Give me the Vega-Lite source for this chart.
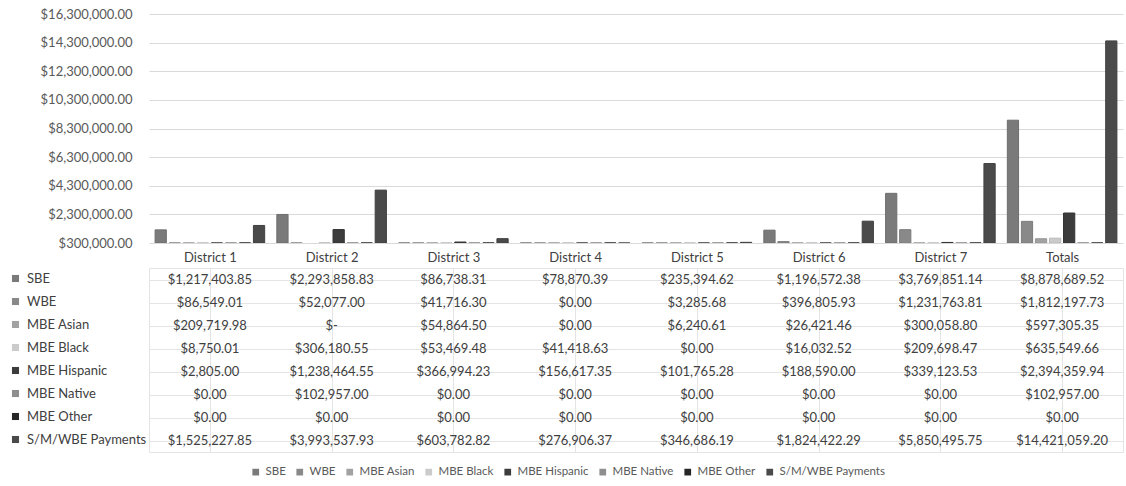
{
  "$schema": "https://vega.github.io/schema/vega-lite/v6.json",
  "padding": {"top": 8, "left": 8, "right": 4, "bottom": 0},
  "background": "white",
  "config": {
    "font": "Lato",
    "view": {"stroke": null},
    "axis": {"labelFont": "Lato", "labelFontSize": 13, "labelColor": "#595959", "titleFont": "Lato"},
    "legend": {"labelFont": "Lato", "labelFontSize": 13, "labelColor": "#595959"}
  },
  "datasets": {
    "pay": [
      {"district": "District 1", "series": "SBE", "value": 1217403.85},
      {"district": "District 2", "series": "SBE", "value": 2293858.83},
      {"district": "District 3", "series": "SBE", "value": 86738.31},
      {"district": "District 4", "series": "SBE", "value": 78870.39},
      {"district": "District 5", "series": "SBE", "value": 235394.62},
      {"district": "District 6", "series": "SBE", "value": 1196572.38},
      {"district": "District 7", "series": "SBE", "value": 3769851.14},
      {"district": "Totals", "series": "SBE", "value": 8878689.52},
      {"district": "District 1", "series": "WBE", "value": 86549.01},
      {"district": "District 2", "series": "WBE", "value": 52077.00},
      {"district": "District 3", "series": "WBE", "value": 41716.30},
      {"district": "District 4", "series": "WBE", "value": 0},
      {"district": "District 5", "series": "WBE", "value": 3285.68},
      {"district": "District 6", "series": "WBE", "value": 396805.93},
      {"district": "District 7", "series": "WBE", "value": 1231763.81},
      {"district": "Totals", "series": "WBE", "value": 1812197.73},
      {"district": "District 1", "series": "MBE Asian", "value": 209719.98},
      {"district": "District 2", "series": "MBE Asian", "value": null},
      {"district": "District 3", "series": "MBE Asian", "value": 54864.50},
      {"district": "District 4", "series": "MBE Asian", "value": 0},
      {"district": "District 5", "series": "MBE Asian", "value": 6240.61},
      {"district": "District 6", "series": "MBE Asian", "value": 26421.46},
      {"district": "District 7", "series": "MBE Asian", "value": 300058.80},
      {"district": "Totals", "series": "MBE Asian", "value": 597305.35},
      {"district": "District 1", "series": "MBE Black", "value": 8750.01},
      {"district": "District 2", "series": "MBE Black", "value": 306180.55},
      {"district": "District 3", "series": "MBE Black", "value": 53469.48},
      {"district": "District 4", "series": "MBE Black", "value": 41418.63},
      {"district": "District 5", "series": "MBE Black", "value": 0},
      {"district": "District 6", "series": "MBE Black", "value": 16032.52},
      {"district": "District 7", "series": "MBE Black", "value": 209698.47},
      {"district": "Totals", "series": "MBE Black", "value": 635549.66},
      {"district": "District 1", "series": "MBE Hispanic", "value": 2805.00},
      {"district": "District 2", "series": "MBE Hispanic", "value": 1238464.55},
      {"district": "District 3", "series": "MBE Hispanic", "value": 366994.23},
      {"district": "District 4", "series": "MBE Hispanic", "value": 156617.35},
      {"district": "District 5", "series": "MBE Hispanic", "value": 101765.28},
      {"district": "District 6", "series": "MBE Hispanic", "value": 188590.00},
      {"district": "District 7", "series": "MBE Hispanic", "value": 339123.53},
      {"district": "Totals", "series": "MBE Hispanic", "value": 2394359.94},
      {"district": "District 1", "series": "MBE Native", "value": 0},
      {"district": "District 2", "series": "MBE Native", "value": 102957.00},
      {"district": "District 3", "series": "MBE Native", "value": 0},
      {"district": "District 4", "series": "MBE Native", "value": 0},
      {"district": "District 5", "series": "MBE Native", "value": 0},
      {"district": "District 6", "series": "MBE Native", "value": 0},
      {"district": "District 7", "series": "MBE Native", "value": 0},
      {"district": "Totals", "series": "MBE Native", "value": 102957.00},
      {"district": "District 1", "series": "MBE Other", "value": 0},
      {"district": "District 2", "series": "MBE Other", "value": 0},
      {"district": "District 3", "series": "MBE Other", "value": 0},
      {"district": "District 4", "series": "MBE Other", "value": 0},
      {"district": "District 5", "series": "MBE Other", "value": 0},
      {"district": "District 6", "series": "MBE Other", "value": 0},
      {"district": "District 7", "series": "MBE Other", "value": 0},
      {"district": "Totals", "series": "MBE Other", "value": 0},
      {"district": "District 1", "series": "S/M/WBE Payments", "value": 1525227.85},
      {"district": "District 2", "series": "S/M/WBE Payments", "value": 3993537.93},
      {"district": "District 3", "series": "S/M/WBE Payments", "value": 603782.82},
      {"district": "District 4", "series": "S/M/WBE Payments", "value": 276906.37},
      {"district": "District 5", "series": "S/M/WBE Payments", "value": 346686.19},
      {"district": "District 6", "series": "S/M/WBE Payments", "value": 1824422.29},
      {"district": "District 7", "series": "S/M/WBE Payments", "value": 5850495.75},
      {"district": "Totals", "series": "S/M/WBE Payments", "value": 14421059.20}
    ],
    "legendItems": [
      {"item": "SBE"}, {"item": "WBE"}, {"item": "MBE Asian"}, {"item": "MBE Black"},
      {"item": "MBE Hispanic"}, {"item": "MBE Native"}, {"item": "MBE Other"}, {"item": "S/M/WBE Payments"}
    ]
  },
  "data": {"name": "pay"},
  "spacing": 0,
  "resolve": {"scale": {"color": "independent"}, "legend": {"color": "independent"}},
  "vconcat": [
    {
      "width": 974,
      "height": 229,
      "mark": {"type": "bar", "strokeWidth": 1, "clip": true},
      "encoding": {
        "x": {
          "field": "district", "type": "nominal",
          "sort": ["District 1", "District 2", "District 3", "District 4", "District 5", "District 6", "District 7", "Totals"],
          "scale": {"paddingInner": 0.1, "paddingOuter": 0.05},
          "axis": null
        },
        "xOffset": {
          "field": "series", "type": "nominal",
          "sort": ["SBE", "WBE", "MBE Asian", "MBE Black", "MBE Hispanic", "MBE Native", "MBE Other", "S/M/WBE Payments"],
          "scale": {"paddingInner": 0.2, "paddingOuter": 0}
        },
        "y": {
          "field": "value", "type": "quantitative",
          "scale": {"domain": [300000, 16300000], "zero": false, "clamp": true, "nice": false},
          "axis": {
            "title": null,
            "values": [300000, 2300000, 4300000, 6300000, 8300000, 10300000, 12300000, 14300000, 16300000],
            "format": "$,.2f",
            "domain": false, "ticks": false, "tickSize": 0, "labelPadding": 17,
            "gridColor": "#d9d9d9", "gridWidth": 1
          }
        },
        "color": {
          "field": "series", "type": "nominal",
          "scale": {
            "domain": ["SBE", "WBE", "MBE Asian", "MBE Black", "MBE Hispanic", "MBE Native", "MBE Other", "S/M/WBE Payments"],
            "range": ["#7a7a7a", "#898989", "#a2a2a2", "#cbcbcb", "#3c3c3c", "#8e8e8e", "#262626", "#4a4a4a"]
          },
          "legend": null
        },
        "stroke": {
          "field": "series", "type": "nominal",
          "scale": {
            "domain": ["SBE", "WBE", "MBE Asian", "MBE Black", "MBE Hispanic", "MBE Native", "MBE Other", "S/M/WBE Payments"],
            "range": ["#6e6e6e", "#7c7c7c", "#959595", "#b8b8b8", "#333333", "#808080", "#1e1e1e", "#404040"]
          },
          "legend": null
        }
      }
    },
    {
      "width": 974,
      "height": 184,
      "view": {"stroke": "#e4e4e4"},
      "layer": [
        {
          "mark": {"type": "text", "fontSize": 13, "color": "#404040", "font": "Lato"},
          "encoding": {
            "x": {
              "field": "district", "type": "nominal",
              "sort": ["District 1", "District 2", "District 3", "District 4", "District 5", "District 6", "District 7", "Totals"],
              "scale": {"paddingInner": 0, "paddingOuter": 0},
              "axis": {
                "orient": "top", "title": null, "labelAngle": 0, "domain": false, "ticks": false, "tickSize": 0,
                "labelPadding": 4, "labelColor": "#404040",
                "grid": true, "gridColor": "#e4e4e4"
              }
            },
            "y": {
              "field": "series", "type": "nominal",
              "sort": ["SBE", "WBE", "MBE Asian", "MBE Black", "MBE Hispanic", "MBE Native", "MBE Other", "S/M/WBE Payments"],
              "scale": {"paddingInner": 0, "paddingOuter": 0},
              "axis": {
                "title": null, "domain": false, "ticks": false, "tickSize": 0, "labels": false,
                "grid": true, "gridColor": "#e4e4e4"
              }
            },
            "text": {
              "condition": {"test": "datum.value === null", "value": "$-"},
              "field": "value", "type": "quantitative", "format": "$,.2f"
            }
          }
        },
        {
          "mark": {"type": "square", "opacity": 0},
          "encoding": {
            "x": {
              "field": "district", "type": "nominal",
              "sort": ["District 1", "District 2", "District 3", "District 4", "District 5", "District 6", "District 7", "Totals"]
            },
            "y": {
              "field": "series", "type": "nominal",
              "sort": ["SBE", "WBE", "MBE Asian", "MBE Black", "MBE Hispanic", "MBE Native", "MBE Other", "S/M/WBE Payments"]
            },
            "color": {
              "field": "series", "type": "nominal",
              "scale": {
                "domain": ["SBE", "WBE", "MBE Asian", "MBE Black", "MBE Hispanic", "MBE Native", "MBE Other", "S/M/WBE Payments"],
                "range": ["#7a7a7a", "#898989", "#a2a2a2", "#cbcbcb", "#3c3c3c", "#8e8e8e", "#262626", "#4a4a4a"]
              },
              "legend": {
                "title": null, "orient": "none", "direction": "vertical",
                "legendX": -140, "legendY": 4,
                "symbolType": "square", "symbolSize": 50, "symbolStrokeWidth": 0, "symbolOpacity": 1,
                "labelFontSize": 13, "labelColor": "#404040", "rowPadding": 9, "labelOffset": 5,
                "labelLimit": 200
              }
            }
          }
        },
        {
          "data": {"name": "legendItems"},
          "mark": {"type": "square", "opacity": 0, "filled": true},
          "encoding": {
            "fill": {
              "field": "item", "type": "nominal",
              "sort": null,
              "scale": {
                "range": ["#7a7a7a", "#898989", "#a2a2a2", "#cbcbcb", "#3c3c3c", "#8e8e8e", "#262626", "#4a4a4a"]
              },
              "legend": {
                "title": null, "orient": "none", "direction": "horizontal",
                "legendX": 101, "legendY": 452,
                "symbolType": "square", "symbolSize": 45, "symbolStrokeWidth": 0, "symbolOpacity": 1,
                "labelFontSize": 11.5, "labelColor": "#595959", "columnPadding": 8, "labelOffset": 4
              }
            }
          }
        }
      ]
    }
  ]
}
